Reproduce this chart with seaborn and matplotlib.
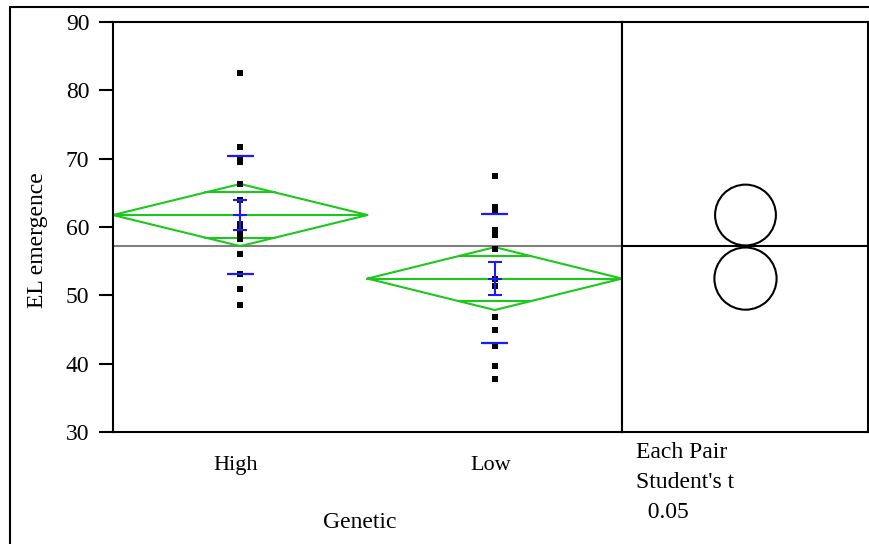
import pandas as pd
import seaborn as sns
import matplotlib.pyplot as plt
from matplotlib.patches import Ellipse
from matplotlib.lines import Line2D

groups = ['High', 'Low']
high_vals = [82.6, 71.7, 69.9, 69.5, 66.3, 63.9, 60.5, 59.7, 58.8, 58.3, 56.0, 53.1, 51.0, 48.6]
low_vals = [67.4, 63.0, 62.5, 59.6, 58.8, 56.8, 52.4, 51.3, 46.8, 44.9, 42.6, 39.6, 37.8]

group_means = [61.75, 52.45]
group_sd = [8.65, 9.4]
group_se = [2.2, 2.4]
ci_half = [4.55, 4.6]
overlap_half = [3.3, 3.3]
grand_mean = 57.2
circle_radius = [4.45, 4.55]

df = pd.DataFrame({
    'Genetic': ['High'] * len(high_vals) + ['Low'] * len(low_vals),
    'EL emergence': high_vals + low_vals,
})

sns.set_style('white')
plt.rcParams['font.family'] = ['Liberation Serif', 'DejaVu Serif']
plt.rcParams['font.size'] = 17
plt.rcParams['text.color'] = 'black'
plt.rcParams['xtick.color'] = 'black'
plt.rcParams['ytick.color'] = 'black'

W, H = 870, 544
fig = plt.figure(figsize=(8.7, 5.44), dpi=100)
ax = fig.add_axes([113 / W, 112 / H, 509 / W, 410 / H])
ax2 = fig.add_axes([622 / W, 112 / H, 246 / W, 410 / H])

green = '#1cc81c'
blue = '#1a1aff'

ax.axhline(grand_mean, color='#808080', lw=1.5, zorder=1)

# means diamonds with overlap marks
for i, (m, c, o) in enumerate(zip(group_means, ci_half, overlap_half)):
    ax.plot([i - 0.5, i, i + 0.5, i, i - 0.5], [m, m + c, m, m - c, m], color=green, lw=1.5, zorder=2)
    ax.plot([i - 0.5, i + 0.5], [m, m], color=green, lw=1.5, zorder=2)
    w = 0.5 * (1 - o / c)
    for y in (m + o, m - o):
        ax.plot([i - w, i + w], [y, y], color=green, lw=1.5, zorder=2)

sns.stripplot(data=df, x='Genetic', y='EL emergence', order=groups, jitter=False,
              marker='s', color='black', size=3.8, linewidth=0, ax=ax, zorder=3)

# mean / std dev / std error marks
for i, (m, sd, se) in enumerate(zip(group_means, group_sd, group_se)):
    ax.hlines([m - sd, m + sd], i - 0.054, i + 0.054, color=blue, lw=1.6, zorder=4)
    ax.errorbar(i, m, yerr=se, color=blue, capsize=5, elinewidth=1.5, capthick=1.5, zorder=4)
    ax.hlines(m, i - 0.028, i + 0.028, color=blue, lw=1.5, zorder=4)

ax.set_xlim(-0.5, 1.5)
ax.set_ylim(30, 90)
ax.set_yticks(range(30, 91, 10))
ax.set_xticks([-0.02, 0.985])
ax.set_xticklabels(groups, fontsize=16)
ax.set_xticks([0.5], minor=True)
ax.tick_params(axis='x', which='major', length=0, pad=17)
ax.tick_params(axis='x', which='minor', length=8, width=1.5, color='black', direction='out')
ax.tick_params(axis='y', length=10, width=1.5, color='black', direction='out', pad=7, left=True,
               labelsize=17)
ax.set_xlabel('')
ax.set_ylabel('')
for sp in ax.spines.values():
    sp.set_color('black')
    sp.set_linewidth(1.5)

# comparison circles
ax2.set_xlim(0, 1)
ax2.set_ylim(30, 90)
ax2.set_xticks([])
ax2.set_yticks([])
ax2.axhline(grand_mean, color='black', lw=1.5)
px_per_unit = 410 / 60
for m, r in zip(group_means, circle_radius):
    wdt = 2 * r * px_per_unit / 246
    ax2.add_patch(Ellipse((0.502, m), wdt, 2 * r, fill=False, lw=1.5, edgecolor='black'))
for sp in ax2.spines.values():
    sp.set_color('black')
    sp.set_linewidth(1.5)

fig.text(38 / W, 1 - 240 / H, 'EL emergence', rotation=90, ha='center', va='center')
fig.text(360 / W, 1 - 522 / H, 'Genetic', ha='center', va='center')
fig.text(636 / W, 1 - 452 / H, 'Each Pair', ha='left', va='center')
fig.text(636 / W, 1 - 482 / H, "Student's t", ha='left', va='center')
fig.text(636 / W, 1 - 512 / H, '  0.05', ha='left', va='center')

fig.add_artist(Line2D([10 / W, 1], [1 - 7 / H] * 2, color='black', lw=1.5, transform=fig.transFigure))
fig.add_artist(Line2D([10 / W] * 2, [0, 1 - 7 / H], color='black', lw=1.5, transform=fig.transFigure))

fig.savefig('out.png', dpi=100)
